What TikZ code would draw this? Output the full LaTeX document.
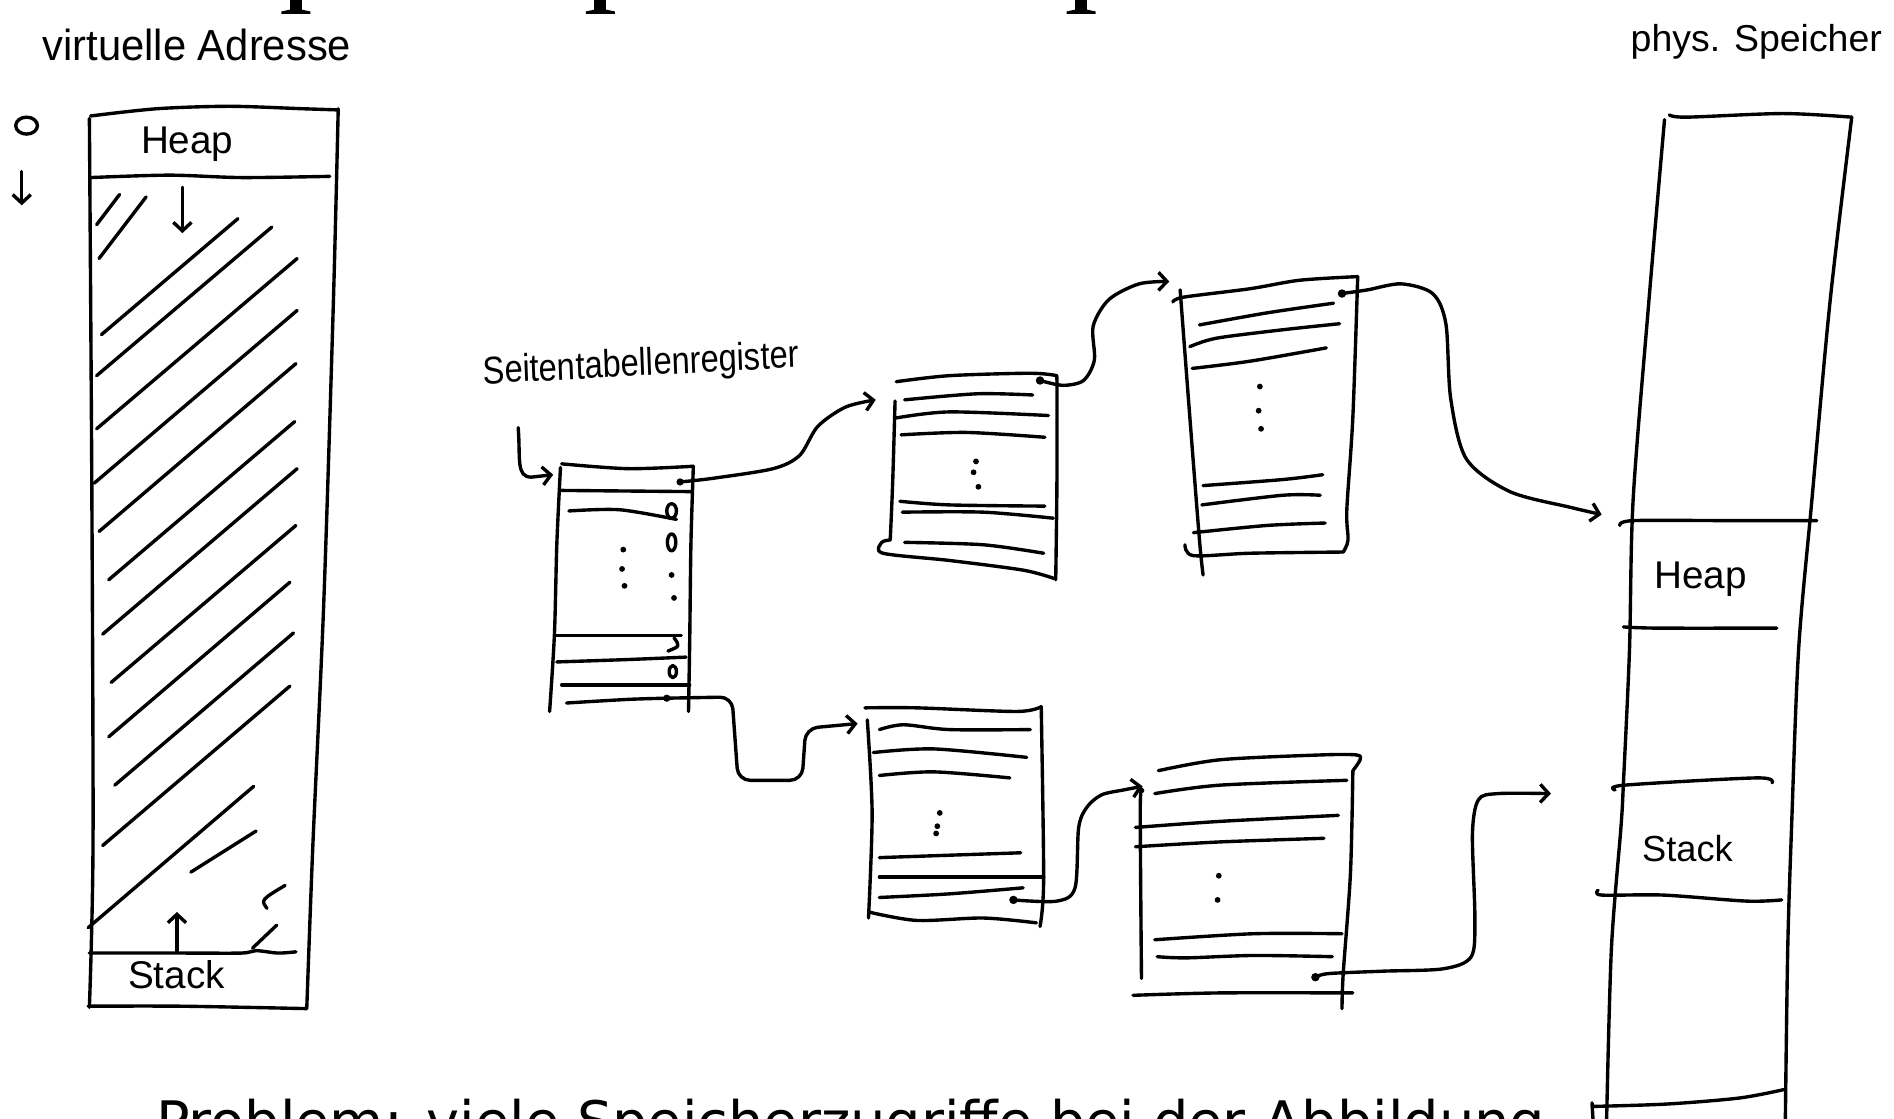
\documentclass[tikz,border=0pt]{standalone}
\usepackage{fontspec}
\setmainfont{DejaVu Sans}
\newfontfamily\handfont{Liberation Sans}
\usetikzlibrary{arrows.meta}
\begin{document}
\begin{tikzpicture}[x=1pt,y=-1pt,
  pen/.style={line width=2.8pt,line cap=round,line join=round},
  harrow/.style={pen,-{Straight Barb[length=7pt,width=15pt]}},
  hand/.style={inner sep=0pt,font={\handfont\fontsize{#1}{#1}\selectfont}}]
\path[use as bounding box] (0,0) rectangle (1568,926);
\clip (0,0) rectangle (1568,926);

% remnants of the cut-off title
\foreach \x in {245,497,895} {
  \fill (\x-5,0) rectangle (\x+5,9);
  \fill (\x-12,11.5) -- (\x-12,9.5) .. controls (\x-8,8.5) .. (\x-5,8) -- (\x+5,8) .. controls (\x+8,8.5) .. (\x+12,9.5) -- (\x+12,11.5) -- cycle;
}

% cut-off bottom line
\node[anchor=base west,inner sep=0pt,font=\fontsize{46.2}{50}\selectfont] (problem) at (129,945) {Problem: viele Speicherzugriffe bei der Abbildung};

% labels
\node[hand=36,anchor=base,xscale=0.96] (vlabel) at (163,50) {virtuelle Adresse};
\node[hand=31,anchor=base] (plabel) at (1454,43) {phys. Speicher};
\node[hand=32,anchor=base,xscale=0.845,rotate=2.6] (reglabel) at (531,311) {Seitentabellenregister};

% ---------- virtual address space ----------
\draw[pen] (22,104) ellipse [x radius=9, y radius=7];
\draw[harrow] (18,142) -- (18,170);
\draw[pen] plot[smooth] coordinates {(75,96) (130,90) (190,88) (250,90) (280,91)};
\draw[pen] plot[smooth] coordinates {(74,98) (76,400) (77,700) (74,834)};
\draw[pen] plot[smooth] coordinates {(280,90) (276,250) (268,500) (259,700) (254,834)};
\draw[pen] plot[smooth] coordinates {(75,147) (140,145) (200,147) (273,146)};
\draw[pen] plot[smooth] coordinates {(74,789) (150,789) (200,789) (212,787) (230,789) (245,788)};
\draw[pen] plot[smooth] coordinates {(73,833) (150,833) (254,835)};
\node[hand=32,anchor=base] (heapv) at (155,127) {Heap};
\node[hand=32,anchor=base] (stackv) at (146,818) {Stack};
\draw[harrow] (151,155) -- (151,193);
\draw[harrow] (146.5,788) -- (146.5,755);
\foreach \ax/\ay/\bx/\by in {80/186/99/161, 82/214/121/163, 84/277/197/181, 80/311/225/188,
  80/355/246/214, 78/400/246/257, 82/440/245/301, 90/480/244/349, 85/525/246/388,
  92/565/245/435, 90/610/240/482, 95/650/243/524, 85/700/240/568, 73/768/210/651,
  158/722/212/688, 209/785/229/766}
  \draw[pen] (\ax,\ay) -- (\bx,\by);
\draw[pen] (221,752) .. controls (216,745) .. (236,733);

% ---------- register arrow ----------
\coordinate (regtop) at (429,354);
\coordinate (pt1in) at (458,393);
\draw[harrow] (regtop) .. controls (431,380) and (427,395) .. (440,395) -- (pt1in);

% ---------- page table 1 ----------
\draw[pen] plot[smooth] coordinates {(465,384) (520,388) (574,386)};
\draw[pen] plot[smooth] coordinates {(464,387) (461,450) (459,525) (455,589)};
\draw[pen] plot[smooth] coordinates {(574,386) (572,450) (571,530) (570,589)};
\draw[pen] (465,406) -- (573,407);
\draw[pen] plot[smooth] coordinates {(471,423) (513,422) (560,430)};
\draw[pen] (556,423) ellipse [x radius=4, y radius=6];
\draw[pen] (556,449) ellipse [x radius=3.5, y radius=7];
\foreach \p in {(516,455),(515,471),(517,485),(556,476),(558,495)} \fill \p circle [radius=2.4];
\draw[pen] (460,526) -- (564,526);
\draw[pen] (558,528) .. controls (563,535) .. (553,539);
\draw[pen] plot[smooth] coordinates {(461,548) (520,546) (568,544)};
\draw[pen] (557,556) ellipse [x radius=3, y radius=5];
\draw[pen] (465,567) -- (571,567);
\draw[pen] plot[smooth] coordinates {(469,582) (520,579) (552,578)};
\coordinate (pt1a) at (563,399);
\coordinate (pt1b) at (552,578);
\fill (pt1a) circle [radius=3];
\fill (pt1b) circle [radius=3];

% ---------- page table 2 (upper middle) ----------
\draw[pen] plot[smooth] coordinates {(742,316) (786,311) (853,309) (875,311)};
\draw[pen] plot[smooth] coordinates {(875,312) (875,400) (874,480)};
\draw[pen] plot[smooth] coordinates {(741,332) (739,400) (737,447)};
\draw[pen] plot[smooth] coordinates {(737,447) (730,449) (731,458) (786,464) (847,472) (873,479)};
\draw[pen] plot[smooth] coordinates {(749,331) (809,326) (855,327)};
\draw[pen] plot[smooth] coordinates {(742,346) (786,341) (868,344)};
\draw[pen] plot[smooth] coordinates {(746,360) (800,358) (865,362)};
\foreach \p in {(808,382),(806,391),(810,403)} \fill \p circle [radius=2.4];
\draw[pen] plot[smooth] coordinates {(745,415) (786,418) (865,419)};
\draw[pen] plot[smooth] coordinates {(747,424) (814,424) (872,429)};
\draw[pen] plot[smooth] coordinates {(749,449) (814,451) (864,458)};
\coordinate (pt2in) at (725,331);
\coordinate (pt2p) at (861,315);
\fill (pt2p) circle [radius=3.5];

% ---------- page table 3 (upper right) ----------
\draw[pen] plot[smooth] coordinates {(971,250) (980,246) (1035,239) (1076,232) (1124,229)};
\draw[pen] plot[smooth] coordinates {(1124,229) (1120,345) (1115,422) (1116,447) (1112,457)};
\draw[pen] plot[smooth] coordinates {(1112,457) (1035,458) (988,460) (981,451)};
\draw[pen] plot[smooth] coordinates {(977,240) (985,345) (993,447) (996,476)};
\draw[pen] plot[smooth] coordinates {(993,269) (1049,259) (1104,251)};
\draw[pen] plot[smooth] coordinates {(985,287) (1007,280) (1062,273) (1109,268)};
\draw[pen] plot[smooth] coordinates {(987,305) (1035,299) (1098,288)};
\foreach \p in {(1043,320),(1042,340),(1044,355)} \fill \p circle [radius=2.4];
\draw[pen] plot[smooth] coordinates {(996,402) (1062,397) (1095,393)};
\draw[pen] plot[smooth] coordinates {(995,418) (1062,410) (1093,410)};
\draw[pen] plot[smooth] coordinates {(988,441) (1049,435) (1097,433)};
\coordinate (pt3in) at (968,233);
\coordinate (pt3p) at (1111,243);
\fill (pt3p) circle [radius=3.5];

% ---------- page table 4 (lower middle) ----------
\draw[pen] plot[smooth] coordinates {(716,586) (759,586) (842,589) (862,585)};
\draw[pen] plot[smooth] coordinates {(862,585) (864,728) (861,767)};
\draw[pen] plot[smooth] coordinates {(718,596) (722,673) (719,760)};
\draw[pen] plot[smooth] coordinates {(719,755) (759,762) (814,760) (858,764)};
\draw[pen] plot[smooth] coordinates {(728,604) (748,600) (786,604) (853,604)};
\draw[pen] plot[smooth] coordinates {(723,623) (773,620) (850,627)};
\draw[pen] plot[smooth] coordinates {(728,642) (773,639) (836,644)};
\foreach \p in {(778,673),(776,684),(775,690)} \fill \p circle [radius=2.4];
\draw[pen] plot[smooth] coordinates {(728,710) (786,708) (845,706)};
\draw[pen] (728,726) -- (864,726);
\draw[pen] plot[smooth] coordinates {(728,743) (786,740) (847,735)};
\coordinate (pt4in) at (710,599);
\coordinate (pt4p) at (839,745);
\fill (pt4p) circle [radius=3.5];

% ---------- page table 5 (lower right) ----------
\draw[pen] plot[smooth] coordinates {(959,638) (1010,629) (1093,625) (1123,625) (1126,629) (1120,638)};
\draw[pen] plot[smooth] coordinates {(1120,638) (1118,723) (1112,806) (1111,835)};
\draw[pen] plot[smooth] coordinates {(946,655) (944,668) (945,810)};
\draw[pen] plot[smooth] coordinates {(956,657) (1010,650) (1115,646)};
\draw[pen] plot[smooth] coordinates {(940,685) (1010,680) (1108,675)};
\draw[pen] plot[smooth] coordinates {(940,701) (1010,697) (1096,694)};
\foreach \p in {(1009,725),(1008,745)} \fill \p circle [radius=2.4];
\draw[pen] plot[smooth] coordinates {(956,778) (1038,773) (1111,773)};
\draw[pen] plot[smooth] coordinates {(958,792) (982,793) (1038,791) (1103,792)};
\draw[pen] plot[smooth] coordinates {(938,824) (1010,822) (1120,822)};
\coordinate (pt5in) at (946,651);
\coordinate (pt5p) at (1089,809);
\fill (pt5p) circle [radius=3.5];

% ---------- physical memory ----------
\draw[pen] plot[smooth] coordinates {(1382,95) (1396,97) (1476,94) (1533,97)};
\draw[pen] plot[smooth] coordinates {(1378,99) (1365,250) (1352,414) (1349,538) (1344,648) (1342,684) (1334,786) (1330,930)};
\draw[pen] plot[smooth] coordinates {(1533,97) (1515,250) (1500,414) (1489,538) (1483,690) (1480,786) (1478,930)};
\draw[pen] plot[smooth] coordinates {(1341,435) (1352,431) (1432,431) (1504,431)};
\draw[pen] plot[smooth] coordinates {(1344,519) (1372,520) (1471,520)};
\draw[pen] plot[smooth] coordinates {(1337,654) (1345,650) (1454,644) (1467,648)};
\draw[pen] plot[smooth] coordinates {(1323,737) (1326,741) (1377,741) (1446,746) (1475,745)};
\draw[pen] (1318,913) -- (1319,930);
\draw[pen] plot[smooth] coordinates {(1318,916) (1380,914) (1440,909) (1477,902)};
\node[hand=32,anchor=base] (heapp) at (1408,487) {Heap};
\node[hand=30,anchor=base] (stackp) at (1397,713) {Stack};
\coordinate (heapin) at (1326,426);
\coordinate (stackin) at (1284,657);

% ---------- connectors ----------
\draw[harrow] plot[smooth] coordinates {(pt1a) (590,396) (640,388) (662,377) (677,353) (700,337) (pt2in)};
\draw[harrow,rounded corners=10pt] (pt1b) -- (606,577) -- (611,646) -- (664,646) -- (667,603) -- (pt4in);
\draw[harrow] plot[smooth] coordinates {(pt2p) (880,319) (897,315) (906,298) (905,270) (918,248) (943,235) (pt3in)};
\draw[harrow] plot[smooth] coordinates {(pt3p) (1132,240) (1160,235) (1186,243) (1197,268) (1201,330) (1214,380) (1250,407) (1300,420) (heapin)};
\draw[harrow] plot[smooth] coordinates {(pt4p) (875,746) (890,735) (893,685) (900,668) (912,658) (930,654) (pt5in)};
\draw[harrow] plot[smooth] coordinates {(pt5p) (1100,806) (1145,804) (1195,802) (1218,792) (1221,760) (1219,690) (1224,662) (1240,657) (stackin)};
\end{tikzpicture}
\end{document}
